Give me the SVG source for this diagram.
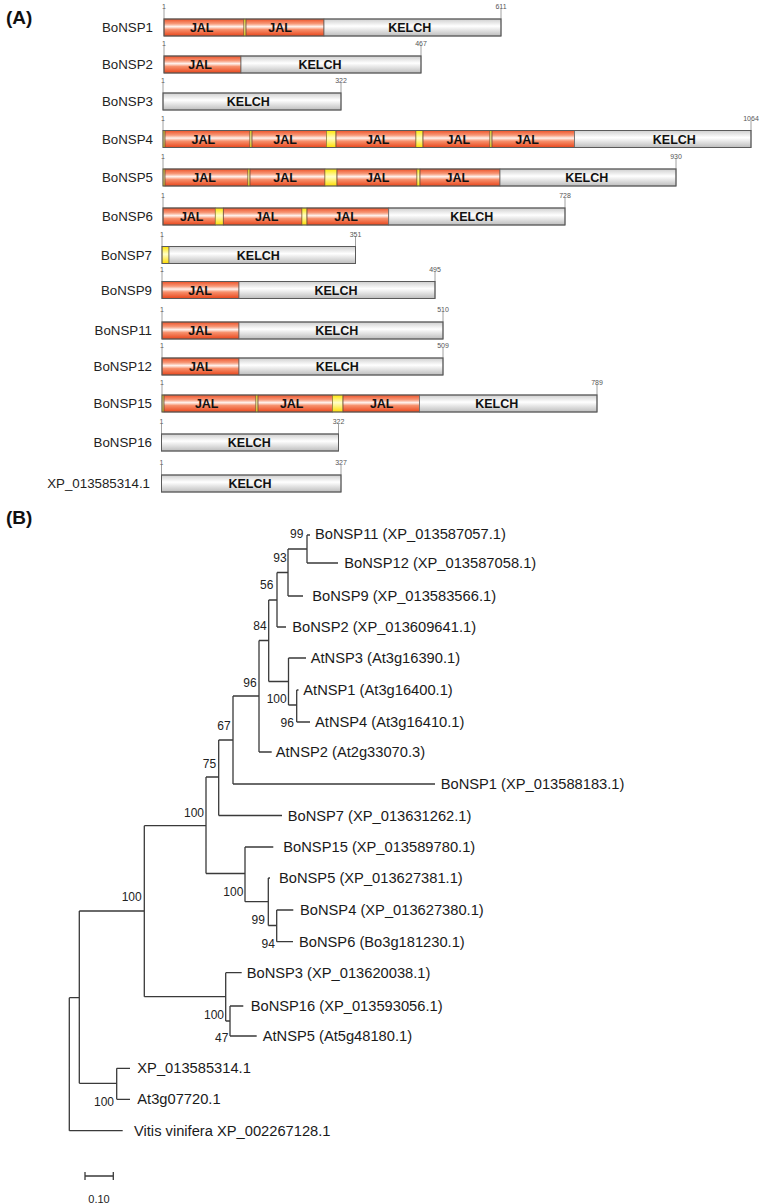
<svg xmlns="http://www.w3.org/2000/svg" width="762" height="1204" viewBox="0 0 762 1204">
<defs>
<linearGradient id="gJ" x1="0" y1="0" x2="0" y2="1">
<stop offset="0" stop-color="#ee5228"/><stop offset="0.28" stop-color="#f79a7a"/><stop offset="0.45" stop-color="#fff3ee"/><stop offset="0.62" stop-color="#f7906c"/><stop offset="1" stop-color="#e8461c"/>
</linearGradient>
<linearGradient id="gK" x1="0" y1="0" x2="0" y2="1">
<stop offset="0" stop-color="#cfcfcf"/><stop offset="0.42" stop-color="#ffffff"/><stop offset="1" stop-color="#bdbdbd"/>
</linearGradient>
<linearGradient id="gY" x1="0" y1="0" x2="0" y2="1">
<stop offset="0" stop-color="#ffe400"/><stop offset="0.45" stop-color="#ffffc8"/><stop offset="1" stop-color="#ffdc00"/>
</linearGradient>
</defs>
<style>
.lab{font-family:"Liberation Sans",Arial,sans-serif;font-size:13.3px;fill:#222;text-anchor:end}
.dom{font-family:"Liberation Sans",Arial,sans-serif;font-size:12.5px;font-weight:bold;fill:#111;text-anchor:middle}
.num{font-family:"Liberation Sans",Arial,sans-serif;font-size:7px;fill:#555;text-anchor:middle}
.tk{stroke:#888;stroke-width:0.8}
.J{fill:url(#gJ);stroke:#6a4a3a;stroke-width:0.8}
.K{fill:url(#gK);stroke:#6a6a6a;stroke-width:0.8}
.Y{fill:url(#gY);stroke:#8a7a30;stroke-width:0.6}
.box{fill:none;stroke:#5a5a5a;stroke-width:1}
.ttl{font-family:"Liberation Sans",Arial,sans-serif;font-size:19px;font-weight:bold;fill:#111}
.leaf{font-family:"Liberation Sans",Arial,sans-serif;font-size:14.7px;fill:#1a1a1a}
.bs{font-family:"Liberation Sans",Arial,sans-serif;font-size:12px;fill:#222;text-anchor:middle}
.tree{fill:none;stroke:#3a3a3a;stroke-width:1.3}
</style>
<rect width="762" height="1204" fill="#ffffff"/>
<text class="ttl" x="6" y="24">(A)</text>

<g id="rowBoNSP1">
<text class="lab" x="153" y="32.3">BoNSP1</text>
<line class="tk" x1="164" y1="9" x2="164" y2="19"/><text class="num" x="164" y="9">1</text>
<line class="tk" x1="501" y1="9" x2="501" y2="19"/><text class="num" x="501" y="9">611</text>
<rect class="J" x="164" y="19" width="80" height="17"/>
<rect class="Y" x="244" y="19" width="2" height="17"/>
<rect class="J" x="246" y="19" width="78" height="17"/>
<rect class="K" x="324" y="19" width="177" height="17"/>
<rect class="box" x="164" y="19" width="337" height="17"/>
<text class="dom" x="201.7" y="32">JAL</text><text class="dom" x="280" y="32">JAL</text><text class="dom" x="409.7" y="32">KELCH</text>
</g>

<g id="rowBoNSP2">
<text class="lab" x="153" y="69.3">BoNSP2</text>
<line class="tk" x1="164" y1="46" x2="164" y2="56"/><text class="num" x="164" y="46">1</text>
<line class="tk" x1="421" y1="46" x2="421" y2="56"/><text class="num" x="421" y="46">467</text>
<rect class="J" x="164" y="56" width="77" height="17"/>
<rect class="K" x="241" y="56" width="180" height="17"/>
<rect class="box" x="164" y="56" width="257" height="17"/>
<text class="dom" x="200" y="69">JAL</text><text class="dom" x="320" y="69">KELCH</text>
</g>

<g id="rowBoNSP3">
<text class="lab" x="153" y="106.3">BoNSP3</text>
<line class="tk" x1="163" y1="83" x2="163" y2="93"/><text class="num" x="163" y="83">1</text>
<line class="tk" x1="341" y1="83" x2="341" y2="93"/><text class="num" x="341" y="83">322</text>
<rect class="K" x="163" y="93" width="178" height="17"/>
<rect class="box" x="163" y="93" width="178" height="17"/>
<text class="dom" x="248.3" y="106">KELCH</text>
</g>

<g id="rowBoNSP4">
<text class="lab" x="153" y="143.8">BoNSP4</text>
<line class="tk" x1="163" y1="120.5" x2="163" y2="130.5"/><text class="num" x="163" y="120.5">1</text>
<line class="tk" x1="751" y1="120.5" x2="751" y2="130.5"/><text class="num" x="751" y="120.5">1064</text>
<rect class="Y" x="163" y="130.5" width="2" height="17"/>
<rect class="J" x="165" y="130.5" width="85" height="17"/>
<rect class="Y" x="250" y="130.5" width="2" height="17"/>
<rect class="J" x="252" y="130.5" width="74.5" height="17"/>
<rect class="Y" x="326.5" y="130.5" width="9.5" height="17"/>
<rect class="J" x="336" y="130.5" width="80" height="17"/>
<rect class="Y" x="416" y="130.5" width="7" height="17"/>
<rect class="J" x="423" y="130.5" width="67" height="17"/>
<rect class="Y" x="490" y="130.5" width="2" height="17"/>
<rect class="J" x="492" y="130.5" width="82.5" height="17"/>
<rect class="K" x="574.5" y="130.5" width="176.5" height="17"/>
<rect class="box" x="163" y="130.5" width="588" height="17"/>
<text class="dom" x="203.3" y="143.5">JAL</text><text class="dom" x="285" y="143.5">JAL</text><text class="dom" x="377.7" y="143.5">JAL</text><text class="dom" x="458.3" y="143.5">JAL</text><text class="dom" x="527" y="143.5">JAL</text><text class="dom" x="674.3" y="143.5">KELCH</text>
</g>

<g id="rowBoNSP5">
<text class="lab" x="153" y="182.3">BoNSP5</text>
<line class="tk" x1="163" y1="159" x2="163" y2="169"/><text class="num" x="163" y="159">1</text>
<line class="tk" x1="676" y1="159" x2="676" y2="169"/><text class="num" x="676" y="159">930</text>
<rect class="Y" x="163" y="169" width="2" height="17"/>
<rect class="J" x="165" y="169" width="83" height="17"/>
<rect class="Y" x="248" y="169" width="2" height="17"/>
<rect class="J" x="250" y="169" width="75" height="17"/>
<rect class="Y" x="325" y="169" width="12" height="17"/>
<rect class="J" x="337" y="169" width="80" height="17"/>
<rect class="Y" x="417" y="169" width="3" height="17"/>
<rect class="J" x="420" y="169" width="80" height="17"/>
<rect class="K" x="500" y="169" width="176" height="17"/>
<rect class="box" x="163" y="169" width="513" height="17"/>
<text class="dom" x="204" y="182">JAL</text><text class="dom" x="285" y="182">JAL</text><text class="dom" x="377.7" y="182">JAL</text><text class="dom" x="457.3" y="182">JAL</text><text class="dom" x="586.7" y="182">KELCH</text>
</g>

<g id="rowBoNSP6">
<text class="lab" x="153" y="221.3">BoNSP6</text>
<line class="tk" x1="163" y1="198" x2="163" y2="208"/><text class="num" x="163" y="198">1</text>
<line class="tk" x1="565" y1="198" x2="565" y2="208"/><text class="num" x="565" y="198">728</text>
<rect class="J" x="163" y="208" width="52.3" height="17"/>
<rect class="Y" x="215.3" y="208" width="8" height="17"/>
<rect class="J" x="223.3" y="208" width="78.7" height="17"/>
<rect class="Y" x="302" y="208" width="5" height="17"/>
<rect class="J" x="307" y="208" width="81.7" height="17"/>
<rect class="K" x="388.7" y="208" width="176.3" height="17"/>
<rect class="box" x="163" y="208" width="402" height="17"/>
<text class="dom" x="191.7" y="221">JAL</text><text class="dom" x="266.7" y="221">JAL</text><text class="dom" x="346" y="221">JAL</text><text class="dom" x="471.7" y="221">KELCH</text>
</g>

<g id="rowBoNSP7">
<text class="lab" x="152" y="259.8">BoNSP7</text>
<line class="tk" x1="162" y1="236.5" x2="162" y2="246.5"/><text class="num" x="162" y="236.5">1</text>
<line class="tk" x1="355.5" y1="236.5" x2="355.5" y2="246.5"/><text class="num" x="355.5" y="236.5">351</text>
<rect class="Y" x="162" y="246.5" width="7" height="17"/>
<rect class="K" x="169" y="246.5" width="186.5" height="17"/>
<rect class="box" x="162" y="246.5" width="193.5" height="17"/>
<text class="dom" x="258.3" y="259.5">KELCH</text>
</g>

<g id="rowBoNSP9">
<text class="lab" x="152" y="294.8">BoNSP9</text>
<line class="tk" x1="162" y1="271.5" x2="162" y2="281.5"/><text class="num" x="162" y="271.5">1</text>
<line class="tk" x1="435" y1="271.5" x2="435" y2="281.5"/><text class="num" x="435" y="271.5">495</text>
<rect class="J" x="162" y="281.5" width="77" height="17"/>
<rect class="K" x="239" y="281.5" width="196" height="17"/>
<rect class="box" x="162" y="281.5" width="273" height="17"/>
<text class="dom" x="200" y="294.5">JAL</text><text class="dom" x="336" y="294.5">KELCH</text>
</g>

<g id="rowBoNSP11">
<text class="lab" x="152" y="335.3">BoNSP11</text>
<line class="tk" x1="162" y1="312" x2="162" y2="322"/><text class="num" x="162" y="312">1</text>
<line class="tk" x1="443" y1="312" x2="443" y2="322"/><text class="num" x="443" y="312">510</text>
<rect class="J" x="162" y="322" width="77" height="17"/>
<rect class="K" x="239" y="322" width="204" height="17"/>
<rect class="box" x="162" y="322" width="281" height="17"/>
<text class="dom" x="200" y="335">JAL</text><text class="dom" x="336.7" y="335">KELCH</text>
</g>

<g id="rowBoNSP12">
<text class="lab" x="152" y="371.3">BoNSP12</text>
<line class="tk" x1="162" y1="348" x2="162" y2="358"/><text class="num" x="162" y="348">1</text>
<line class="tk" x1="443" y1="348" x2="443" y2="358"/><text class="num" x="443" y="348">509</text>
<rect class="J" x="162" y="358" width="77" height="17"/>
<rect class="K" x="239" y="358" width="204" height="17"/>
<rect class="box" x="162" y="358" width="281" height="17"/>
<text class="dom" x="200.7" y="371">JAL</text><text class="dom" x="337.3" y="371">KELCH</text>
</g>

<g id="rowBoNSP15">
<text class="lab" x="152" y="408.3">BoNSP15</text>
<line class="tk" x1="162" y1="385" x2="162" y2="395"/><text class="num" x="162" y="385">1</text>
<line class="tk" x1="597" y1="385" x2="597" y2="395"/><text class="num" x="597" y="385">789</text>
<rect class="Y" x="162" y="395" width="2" height="17"/>
<rect class="J" x="164" y="395" width="92" height="17"/>
<rect class="Y" x="256" y="395" width="2" height="17"/>
<rect class="J" x="258" y="395" width="74.5" height="17"/>
<rect class="Y" x="332.5" y="395" width="10.5" height="17"/>
<rect class="J" x="343" y="395" width="76.5" height="17"/>
<rect class="K" x="419.5" y="395" width="177.5" height="17"/>
<rect class="box" x="162" y="395" width="435" height="17"/>
<text class="dom" x="206.7" y="408">JAL</text><text class="dom" x="291.7" y="408">JAL</text><text class="dom" x="381.7" y="408">JAL</text><text class="dom" x="496.7" y="408">KELCH</text>
</g>

<g id="rowBoNSP16">
<text class="lab" x="152" y="447.3">BoNSP16</text>
<line class="tk" x1="161.5" y1="424" x2="161.5" y2="434"/><text class="num" x="161.5" y="424">1</text>
<line class="tk" x1="338.5" y1="424" x2="338.5" y2="434"/><text class="num" x="338.5" y="424">322</text>
<rect class="K" x="161.5" y="434" width="177" height="17"/>
<rect class="box" x="161.5" y="434" width="177" height="17"/>
<text class="dom" x="249.3" y="447">KELCH</text>
</g>

<g id="rowXP_013585314">
<text class="lab" x="150" y="488.3">XP_013585314.1</text>
<line class="tk" x1="161.5" y1="465" x2="161.5" y2="475"/><text class="num" x="161.5" y="465">1</text>
<line class="tk" x1="341" y1="465" x2="341" y2="475"/><text class="num" x="341" y="465">327</text>
<rect class="K" x="161.5" y="475" width="179.5" height="17"/>
<rect class="box" x="161.5" y="475" width="179.5" height="17"/>
<text class="dom" x="250" y="488">KELCH</text>
</g>

<text class="ttl" x="6" y="524">(B)</text>

<g id="connectors">
<path class="tree" d="M69.3,997.7V1130.7M69.3,997.7H79.3M69.3,1130.7H122.7
M79.3,911V1083.3M79.3,911H144.3M79.3,1083.3H116.7
M116.7,1068.3V1099.3M116.7,1068.3H130M116.7,1099.3H130
M144.3,825.7V996.7M144.3,825.7H206M144.3,996.7H225.7
M206,777V873.5M206,777H218.7M206,873.5H245
M218.7,740V815.5M218.7,740H233M218.7,815.5H282
M233,696V784M233,696H259M233,784H435
M259,640.5V752M259,640.5H268.7M259,752H271.7
M268.7,600V681.5M268.7,600H277M268.7,681.5H288.5
M277,572.5V627M277,572.5H288M277,627H286
M288,549V596M288,549H307M288,596H303
M307,535V563M307,535H310M307,563H338
M288.5,658V705M288.5,658H306M288.5,705H296.7
M296.7,690V722M296.7,690H298.5M296.7,722H310
M245,847V901.7M245,847H273.3M245,901.7H268.3
M268.3,878V925.5M268.3,878H270M268.3,925.5H276.7
M276.7,910V941.7M276.7,910H293.3M276.7,941.7H293
M225.7,972.7V1021M225.7,972.7H241.7M225.7,1021H230
M230,1006V1036M230,1006H243.3M230,1036H256.7"/>
<path class="tree" d="M85,1176H113.3M85,1172V1180M113.3,1172V1180"/>
</g>

<g id="bootstrap">
<text class="bs" x="296.7" y="538.3">99</text>
<text class="bs" x="280" y="561.6">93</text>
<text class="bs" x="266.7" y="589.3">56</text>
<text class="bs" x="260" y="630.3">84</text>
<text class="bs" x="250" y="687">96</text>
<text class="bs" x="276.7" y="702.6">100</text>
<text class="bs" x="287.3" y="726.6">96</text>
<text class="bs" x="224" y="730.3">67</text>
<text class="bs" x="209.5" y="768">75</text>
<text class="bs" x="194" y="816.6">100</text>
<text class="bs" x="131.7" y="901">100</text>
<text class="bs" x="233.3" y="896">100</text>
<text class="bs" x="258.3" y="923.6">99</text>
<text class="bs" x="268.3" y="947.6">94</text>
<text class="bs" x="214" y="1018.6">100</text>
<text class="bs" x="221.7" y="1042">47</text>
<text class="bs" x="104" y="1106">100</text>
</g>

<g id="leaf_BoNSP11"><text class="leaf" x="315" y="539">BoNSP11 (XP_013587057.1)</text></g>
<g id="leaf_BoNSP12"><text class="leaf" x="344.3" y="568">BoNSP12 (XP_013587058.1)</text></g>
<g id="leaf_BoNSP9"><text class="leaf" x="312.3" y="601">BoNSP9 (XP_013583566.1)</text></g>
<g id="leaf_BoNSP2"><text class="leaf" x="292.3" y="632">BoNSP2 (XP_013609641.1)</text></g>
<g id="leaf_AtNSP3"><text class="leaf" x="310.7" y="663">AtNSP3 (At3g16390.1)</text></g>
<g id="leaf_AtNSP1"><text class="leaf" x="303.3" y="695">AtNSP1 (At3g16400.1)</text></g>
<g id="leaf_AtNSP4"><text class="leaf" x="315" y="727">AtNSP4 (At3g16410.1)</text></g>
<g id="leaf_AtNSP2"><text class="leaf" x="275.7" y="757">AtNSP2 (At2g33070.3)</text></g>
<g id="leaf_BoNSP1"><text class="leaf" x="440.7" y="789">BoNSP1 (XP_013588183.1)</text></g>
<g id="leaf_BoNSP7"><text class="leaf" x="287.7" y="821">BoNSP7 (XP_013631262.1)</text></g>
<g id="leaf_BoNSP15"><text class="leaf" x="283.3" y="852">BoNSP15 (XP_013589780.1)</text></g>
<g id="leaf_BoNSP5"><text class="leaf" x="279" y="883">BoNSP5 (XP_013627381.1)</text></g>
<g id="leaf_BoNSP4"><text class="leaf" x="300" y="915">BoNSP4 (XP_013627380.1)</text></g>
<g id="leaf_BoNSP6"><text class="leaf" x="299" y="947">BoNSP6 (Bo3g181230.1)</text></g>
<g id="leaf_BoNSP3"><text class="leaf" x="246.7" y="978">BoNSP3 (XP_013620038.1)</text></g>
<g id="leaf_BoNSP16"><text class="leaf" x="250.7" y="1011">BoNSP16 (XP_013593056.1)</text></g>
<g id="leaf_AtNSP5"><text class="leaf" x="262.7" y="1041">AtNSP5 (At5g48180.1)</text></g>
<g id="leaf_XP_013585314"><text class="leaf" x="137.3" y="1073">XP_013585314.1</text></g>
<g id="leaf_At3g07720"><text class="leaf" x="137.3" y="1104">At3g07720.1</text></g>
<g id="leaf_Vitis"><text class="leaf" x="134" y="1136">Vitis vinifera XP_002267128.1</text></g>
<g id="scale"><text class="bs" x="99" y="1203" style="font-size:11px">0.10</text></g>
</svg>
